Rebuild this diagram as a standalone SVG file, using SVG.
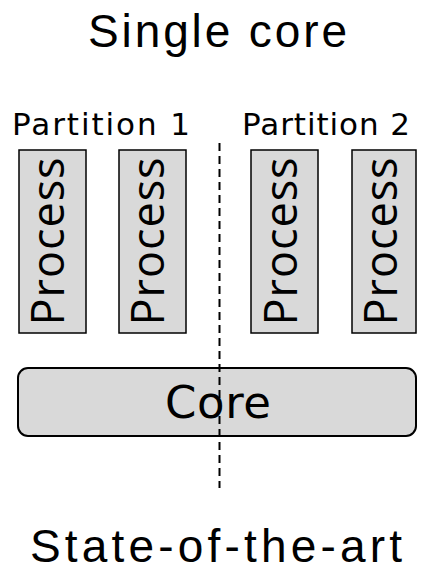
<svg xmlns="http://www.w3.org/2000/svg" width="423" height="571" viewBox="0 0 423 571">
  <style>
    .title { font-family: "Liberation Sans", Arial, sans-serif; font-size: 46px; fill: #000; }
    .label { font-family: "DejaVu Sans", Verdana, sans-serif; font-size: 31px; fill: #000; }
    .proc rect { fill: #d9d9d9; stroke: #000; stroke-width: 1.5; }
    .proc text { font-family: "Open Sans", "DejaVu Sans", sans-serif; font-size: 45px; fill: #000; text-anchor: middle; }
    .core rect { fill: #d9d9d9; stroke: #000; stroke-width: 2; }
    .core text { font-family: "DejaVu Sans", Verdana, sans-serif; font-size: 45px; fill: #000; text-anchor: middle; }
    .divider { stroke: #000; stroke-width: 2; stroke-dasharray: 8 5; fill: none; }
  </style>

  <text class="title" x="88" y="47" textLength="259" lengthAdjust="spacing">Single core</text>
  <text class="label" x="12" y="135" textLength="178" lengthAdjust="spacing">Partition 1</text>
  <text class="label" x="242" y="135" textLength="168" lengthAdjust="spacing">Partition 2</text>

  <!-- processes: rotated labels read bottom to top -->
  <g id="process1" class="proc">
    <rect x="19" y="150" width="67" height="183"/>
    <text transform="translate(64,241.5) rotate(-90)" textLength="168" lengthAdjust="spacing">Process</text>
  </g>
  <g id="process2" class="proc">
    <rect x="119" y="150" width="67" height="183"/>
    <text transform="translate(164,241.5) rotate(-90)" textLength="168" lengthAdjust="spacing">Process</text>
  </g>
  <g id="process3" class="proc">
    <rect x="251" y="150" width="67" height="183"/>
    <text transform="translate(297,241.5) rotate(-90)" textLength="168" lengthAdjust="spacing">Process</text>
  </g>
  <g id="process4" class="proc">
    <rect x="352" y="150" width="64" height="183"/>
    <text transform="translate(397,241.5) rotate(-90)" textLength="168" lengthAdjust="spacing">Process</text>
  </g>

  <g id="core" class="core">
    <rect x="18" y="368" width="398" height="68" rx="10" ry="10"/>
    <text x="218" y="418" textLength="106" lengthAdjust="spacing">Core</text>
  </g>

  <g id="connectors">
    <line class="divider" x1="219.5" y1="143" x2="219.5" y2="488"/>
  </g>

  <text class="title" x="30" y="562" textLength="372" lengthAdjust="spacing">State-of-the-art</text>
</svg>
